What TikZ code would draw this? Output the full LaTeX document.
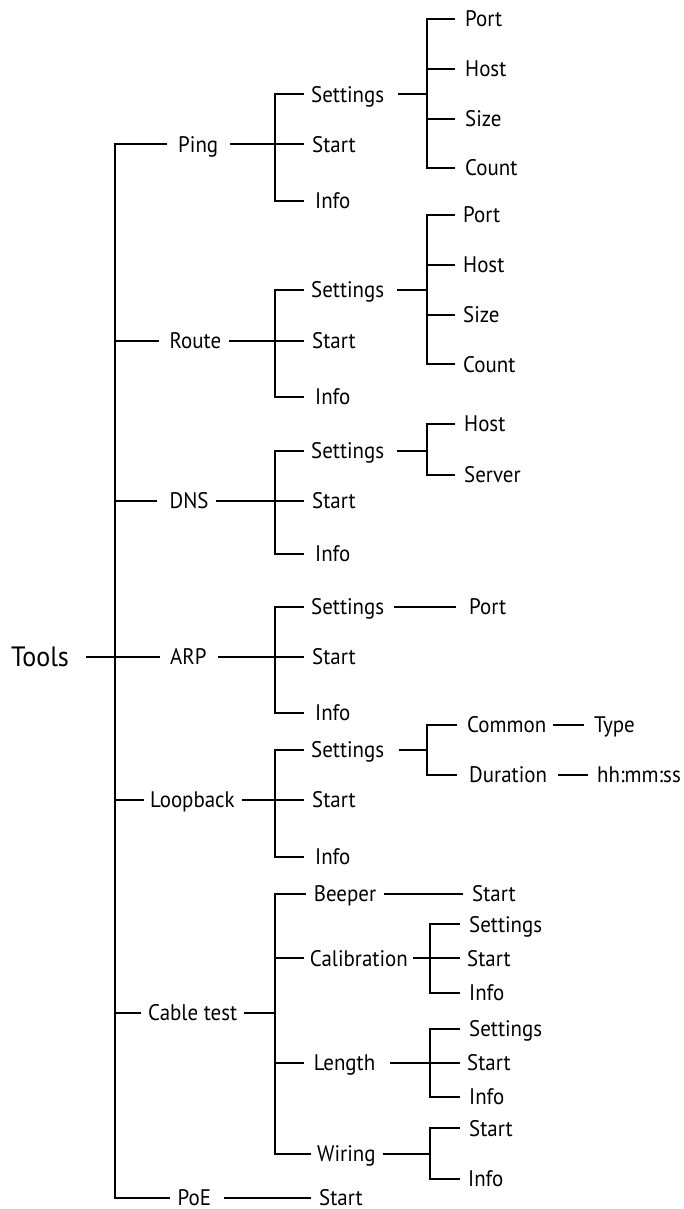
\documentclass[tikz,border=0pt]{standalone}
\usepackage{fontspec}
\setmainfont[FakeStretch=0.93]{PT Sans}
\usetikzlibrary{positioning}
\tikzset{
  item/.style={anchor=west,inner sep=0pt,text height=15.75pt,text depth=0pt,
    font=\fontsize{22.5}{27}\selectfont},
  rootitem/.style={item,text height=19.6pt,font=\fontsize{28}{33}\selectfont},
  link/.style={line width=2pt,black},
}

\begin{document}
\begin{tikzpicture}[x=1pt,y=-1pt]
  \useasboundingbox (0,0) rectangle (684,1209);
  % bus columns and stub ends
  \coordinate (b0) at (115,0);
  \coordinate (b1) at (274.5,0);
  \coordinate (b2) at (426.5,0);
  \coordinate (b3) at (429.5,0);
  \coordinate (e1) at (304,0);
  \coordinate (e2) at (455,0);
  \coordinate (e3) at (459.5,0);

  % root and first level
  \node[rootitem] (tools) at (11,656.5) {Tools};
  \node[item] (ping) at (178,144.5) {Ping};
  \node[item] (route) at (169.5,340.5) {Route};
  \node[item] (dns) at (169.5,500.5) {DNS};
  \node[item] (arp) at (170,656.5) {ARP};
  \node[item] (loop) at (150,800) {Loopback};
  \node[item] (cable) at (148,1013) {Cable test};
  \node[item] (poe) at (177.5,1197.5) {PoE};
  \draw[link] ([xshift=17pt]tools.east) -- (tools.east -| b0);
  \draw[link] ([xshift=-11pt]ping.west) -- (ping.west -| b0) -- (poe.west -| b0) -- ([xshift=-8pt]poe.west);
  \foreach \n/\g in {route/11,dns/12.6,arp/10,loop/6,cable/7}
    \draw[link] (\n.west -| b0) -- ([xshift=-\g pt]\n.west);

  % Ping
  \node[item] (pset) at (311,94.5) {Settings};
  \node[item] (pstart) at (312,144.5) {Start};
  \node[item] (pinfo) at (315,201) {Info};
  \draw[link] ([xshift=12pt]ping.east) -- (ping.east -| b1);
  \draw[link] (pset.west -| e1) -- (pset.west -| b1) -- (pinfo.west -| b1) -- (pinfo.west -| e1);
  \draw[link] (pstart.west -| b1) -- (pstart.west -| e1);
  \node[item] (pport) at (465,19) {Port};
  \node[item] (phost) at (465,69) {Host};
  \node[item] (psize) at (465,119) {Size};
  \node[item] (pcount) at (465,168) {Count};
  \draw[link] ([xshift=14pt]pset.east) -- (pset.east -| b2);
  \draw[link] (pport.west -| e2) -- (pport.west -| b2) -- (pcount.west -| b2) -- (pcount.west -| e2);
  \foreach \c in {phost,psize} \draw[link] (\c.west -| b2) -- (\c.west -| e2);

  % Route
  \node[item] (rset) at (311,290) {Settings};
  \node[item] (rstart) at (312,340.5) {Start};
  \node[item] (rinfo) at (315,396.5) {Info};
  \draw[link] ([xshift=8pt]route.east) -- (route.east -| b1);
  \draw[link] (rset.west -| e1) -- (rset.west -| b1) -- (rinfo.west -| b1) -- (rinfo.west -| e1);
  \draw[link] (rstart.west -| b1) -- (rstart.west -| e1);
  \node[item] (rport) at (463,215) {Port};
  \node[item] (rhost) at (463,265) {Host};
  \node[item] (rsize) at (463,315) {Size};
  \node[item] (rcount) at (463,364.3) {Count};
  \draw[link] ([xshift=13pt]rset.east) -- (rset.east -| b2);
  \draw[link] (rport.west -| e2) -- (rport.west -| b2) -- (rcount.west -| b2) -- (rcount.west -| e2);
  \foreach \c in {rhost,rsize} \draw[link] (\c.west -| b2) -- (\c.west -| e2);

  % DNS
  \node[item] (dset) at (311,450.5) {Settings};
  \node[item] (dstart) at (312,500.5) {Start};
  \node[item] (dinfo) at (315,554) {Info};
  \draw[link] ([xshift=7pt]dns.east) -- (dns.east -| b1);
  \draw[link] (dset.west -| e1) -- (dset.west -| b1) -- (dinfo.west -| b1) -- (dinfo.west -| e1);
  \draw[link] (dstart.west -| b1) -- (dstart.west -| e1);
  \node[item] (dhost) at (464,424) {Host};
  \node[item] (dserver) at (464,475) {Server};
  \draw[link] ([xshift=13pt]dset.east) -- (dset.east -| b2);
  \draw[link] (dhost.west -| e2) -- (dhost.west -| b2) -- (dserver.west -| b2) -- (dserver.west -| e2);

  % ARP
  \node[item] (aset) at (311,606.5) {Settings};
  \node[item] (astart) at (312,656.5) {Start};
  \node[item] (ainfo) at (315,713) {Info};
  \draw[link] ([xshift=11pt]arp.east) -- (arp.east -| b1);
  \draw[link] (aset.west -| e1) -- (aset.west -| b1) -- (ainfo.west -| b1) -- (ainfo.west -| e1);
  \draw[link] (astart.west -| b1) -- (astart.west -| e1);
  \node[item] (aport) at (469,606.5) {Port};
  \draw[link] ([xshift=10pt]aset.east) -- ([xshift=-13pt]aport.west);

  % Loopback
  \node[item] (lset) at (311,750) {Settings};
  \node[item] (lstart) at (312,800) {Start};
  \node[item] (linfo) at (315,856.5) {Info};
  \draw[link] ([xshift=7.5pt]loop.east) -- (loop.east -| b1);
  \draw[link] (lset.west -| e1) -- (lset.west -| b1) -- (linfo.west -| b1) -- (linfo.west -| e1);
  \draw[link] (lstart.west -| b1) -- (lstart.west -| e1);
  \node[item] (lcommon) at (467,725) {Common};
  \node[item] (ldur) at (469,775) {Duration};
  \node[item] (ltype) at (594,725) {Type};
  \node[item] (ltime) at (597,775) {hh:mm:ss};
  \draw[link] ([xshift=15pt]lset.east) -- (lset.east -| b2);
  \draw[link] ([xshift=-10pt]lcommon.west) -- (lcommon.west -| b2) -- (ldur.west -| b2) -- ([xshift=-12pt]ldur.west);
  \draw[link] ([xshift=7pt]lcommon.east) -- ([xshift=-10pt]ltype.west);
  \draw[link] ([xshift=11pt]ldur.east) -- ([xshift=-9pt]ltime.west);

  % Cable test
  \node[item] (cbeep) at (313.6,894) {Beeper};
  \node[item] (ccal) at (309.7,958.3) {Calibration};
  \node[item] (clen) at (313.6,1062.7) {Length};
  \node[item] (cwir) at (317,1154) {Wiring};
  \draw[link] ([xshift=7pt]cable.east) -- (cable.east -| b1);
  \draw[link] ([xshift=-7.6pt]cbeep.west) -- (cbeep.west -| b1) -- (cwir.west -| b1) -- ([xshift=-6pt]cwir.west);
  \draw[link] (ccal.west -| b1) -- ([xshift=-5.7pt]ccal.west);
  \draw[link] (clen.west -| b1) -- ([xshift=-9.6pt]clen.west);
  \node[item] (cbstart) at (472,894) {Start};
  \draw[link] ([xshift=8pt]cbeep.east) -- ([xshift=-9.4pt]cbstart.west);
  % calibration
  \node[item] (ccset) at (469,924.3) {Settings};
  \node[item] (ccstart) at (467,958.3) {Start};
  \node[item] (ccinfo) at (469,992.7) {Info};
  \draw[link] ([xshift=5pt]ccal.east) -- (ccal.east -| b3);
  \draw[link] (ccset.west -| e3) -- (ccset.west -| b3) -- (ccinfo.west -| b3) -- (ccinfo.west -| e3);
  \draw[link] (ccstart.west -| b3) -- (ccstart.west -| e3);
  % length
  \node[item] (clset) at (469,1028.7) {Settings};
  \node[item] (clstart) at (467,1062.7) {Start};
  \node[item] (clinfo) at (469,1096.7) {Info};
  \draw[link] ([xshift=15pt]clen.east) -- (clen.east -| b3);
  \draw[link] (clset.west -| e3) -- (clset.west -| b3) -- (clinfo.west -| b3) -- (clinfo.west -| e3);
  \draw[link] (clstart.west -| b3) -- (clstart.west -| e3);
  % wiring
  \node[item] (cwstart) at (469,1128.3) {Start};
  \node[item] (cwinfo) at (468,1179) {Info};
  \draw[link] ([xshift=7pt]cwir.east) -- (cwir.east -| b3);
  \draw[link] (cwstart.west -| e3) -- (cwstart.west -| b3) -- (cwinfo.west -| b3) -- (cwinfo.west -| e3);

  % PoE
  \node[item] (postart) at (319,1197.5) {Start};
  \draw[link] ([xshift=13pt]poe.east) -- ([xshift=-8.4pt]postart.west);
\end{tikzpicture}
\end{document}
